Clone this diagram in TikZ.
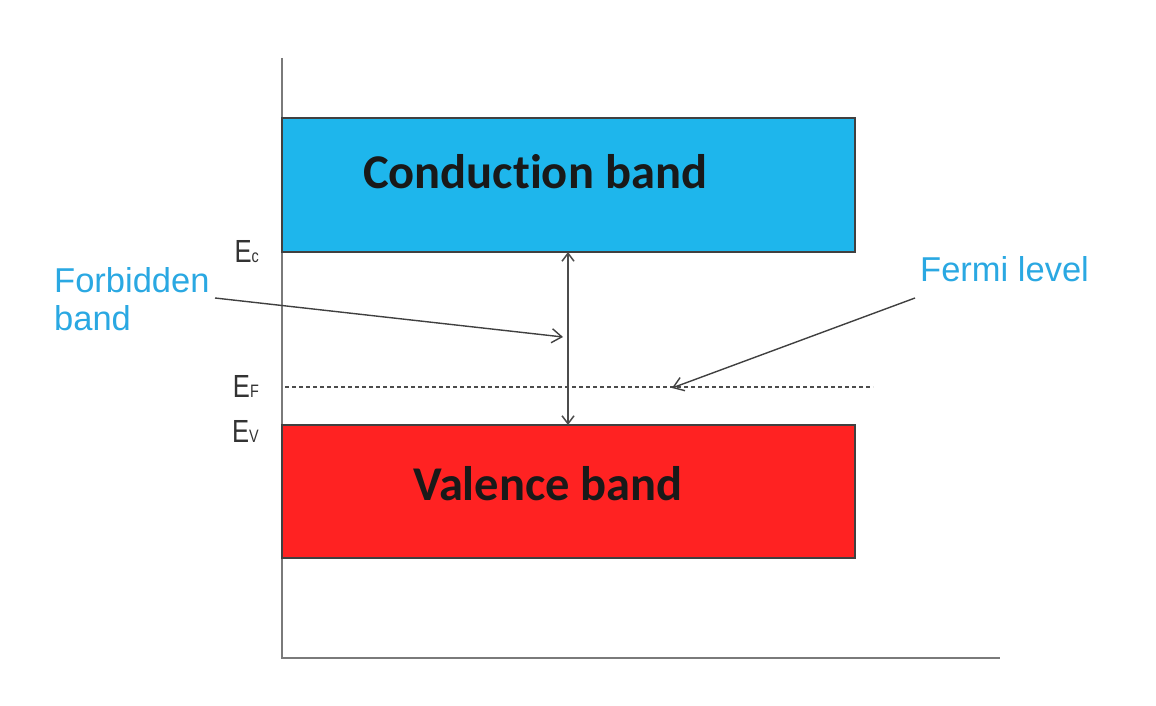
\documentclass[tikz,border=0pt]{standalone}
\usepackage{fontspec}
\setmainfont{Liberation Sans}
\newfontfamily\calib[Ligatures={NoCommon,NoRare,NoContextual}]{Carlito}
\usetikzlibrary{arrows.meta}
\definecolor{cband}{HTML}{1EB6EC}
\definecolor{vband}{HTML}{FF2222}
\definecolor{lblue}{HTML}{2AA8E2}
\definecolor{axisgray}{HTML}{7A7A7A}
\newcommand{\elab}[1]{\scalebox{0.8}[1]{\fontsize{32}{34}\selectfont E\fontsize{18}{20}\selectfont #1}}
\tikzset{
  band/.style={draw=black!75, line width=1.3pt},
  bandtext/.style={font=\calib\bfseries\fontsize{48.5}{50}\selectfont, text=black!90, anchor=base, inner sep=0pt},
  elabel/.style={text=black!80, anchor=base east, inner sep=0pt},
  bluetext/.style={font=\fontsize{34.5}{38}\selectfont, text=lblue, anchor=base west, inner sep=0pt},
  pointer/.style={draw=black!75, line width=1.4pt, -{Straight Barb[length=10pt,width=14pt]}},
  axis/.style={draw=axisgray, line width=1.8pt},
}
\begin{document}
\begin{tikzpicture}[x=1pt,y=-1pt]
\useasboundingbox (0,0) rectangle (1156,706);
% axes
\coordinate (ytop) at (282,58);
\coordinate (orig) at (282,658);
\coordinate (xend) at (1000,658);
\draw[axis] (ytop) -- (orig) -- (xend);
% bands
\node[band, fill=cband, minimum width=573pt, minimum height=134pt, inner sep=0pt] (cb) at (568.5,185) {};
\node[band, fill=vband, minimum width=573pt, minimum height=133pt, inner sep=0pt] (vb) at (568.5,491.5) {};
\node[bandtext] (cbt) at (535,188) {Conduction band};
\node[bandtext] (vbt) at (548,500) {Valence band};
% labels
\node[elabel] (ec) at (259,262) {\elab{c}};
\node[elabel] (ef) at (259,397) {\elab{F}};
\node[elabel] (ev) at (259,442) {\elab{V}};
% fermi level dashed
\coordinate (fl1) at (285,387);
\coordinate (fl2) at (873,387);
\draw[black!70, line width=1.2pt, dash pattern=on 4pt off 3pt] (fl1) -- (fl2);
% gap arrow
\coordinate (gtop) at (568,252);
\coordinate (gbot) at (568,425);
\draw[black!70, line width=1.5pt, {Straight Barb[length=8pt,width=12pt]}-{Straight Barb[length=8pt,width=12pt]}] (gtop) -- (gbot);
% texts
\node[bluetext] (fb1) at (54,292) {Forbidden};
\node[bluetext] (fb2) at (54,330) {band};
\node[bluetext] (fermi) at (920,281) {Fermi level};
\coordinate (fbs) at (215,298);
\coordinate (fbe) at (563,337);
\draw[pointer] (fbs) -- (fbe);
\coordinate (frs) at (915,298);
\coordinate (fre) at (672,388);
\draw[pointer] (frs) -- (fre);
\end{tikzpicture}
\end{document}
